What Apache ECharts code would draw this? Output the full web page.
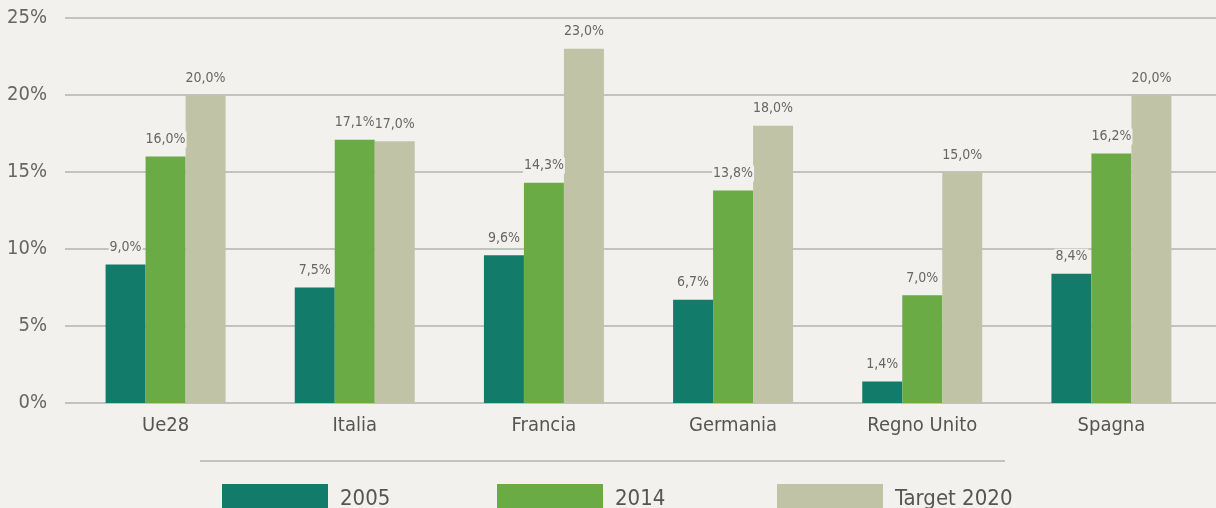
<!DOCTYPE html>
<html><head><meta charset="utf-8">
<script src="https://cdn.jsdelivr.net/npm/echarts@6/dist/echarts.min.js"></script>
<style>html,body{margin:0;padding:0;background:#f2f1ed}#c{width:1216px;height:508px}</style>
</head><body><div id="c"></div>
<script>
const categories = ['Ue28', 'Italia', 'Francia', 'Germania', 'Regno Unito', 'Spagna'];
const seriesNames = ['2005', '2014', 'Target 2020'];
const values2005 = [9.0, 7.5, 9.6, 6.7, 1.4, 8.4];
const values2014 = [16.0, 17.1, 14.3, 13.8, 7.0, 16.2];
const valuesTarget = [20.0, 17.0, 23.0, 18.0, 15.0, 20.0];
const yTicks = [0, 5, 10, 15, 20, 25];

const FONT = '"DejaVu Sans Condensed", "Liberation Sans Narrow", "Roboto", sans-serif';
const BG = '#f2f1ed';
const colors = ['#137b69', '#6aab45', '#c0c3a5'];
const allValues = [values2005, values2014, valuesTarget];
const legendLeft = [222, 497, 777];

const chart = echarts.init(document.getElementById('c'));
chart.setOption({
  backgroundColor: BG,
  animation: false,
  textStyle: { fontFamily: FONT },
  grid: [
    { left: 71, right: 10, top: 18, bottom: 105 },
    { left: 65, right: 0, top: 18, bottom: 105 }
  ],
  xAxis: [
    { type: 'category', data: categories, gridIndex: 0,
      axisLine: { show: false }, axisTick: { show: false },
      axisLabel: { fontFamily: FONT, fontSize: 20, color: '#555', margin: 13 } },
    { type: 'category', data: categories, gridIndex: 1, show: false }
  ],
  yAxis: [
    { type: 'value', gridIndex: 0, min: yTicks[0], max: yTicks[yTicks.length - 1], interval: 5,
      splitLine: { show: false },
      axisLine: { show: false }, axisTick: { show: false },
      axisLabel: { show: false } },
    { type: 'value', gridIndex: 1, min: yTicks[0], max: yTicks[yTicks.length - 1], interval: 5,
      splitLine: { show: true, lineStyle: { color: '#c2c2bf', width: 2 } },
      axisLine: { show: false }, axisTick: { show: false },
      axisLabel: { fontFamily: FONT, fontSize: 20, color: '#666', margin: 18,
        formatter: v => v + '%' } }
  ],
  legend: seriesNames.map((n, i) => ({
    data: [n], left: legendLeft[i], top: 484, padding: 0, itemWidth: 106, itemHeight: 30,
    icon: 'rect', selectedMode: false,
    textStyle: { fontFamily: FONT, fontSize: 22, color: '#555', padding: [0, 0, 0, 7] }
  })),
  graphic: [
    { type: 'line', shape: { x1: 200, y1: 461, x2: 1005, y2: 461 },
      style: { stroke: '#c2c2bf', lineWidth: 2 } }
  ],
  series: seriesNames.map((n, i) => ({
    name: n, type: 'bar', xAxisIndex: 0, yAxisIndex: 0,
    data: allValues[i], barWidth: 40, barGap: '0%',
    itemStyle: { color: colors[i] },
    label: { show: true, position: 'top', distance: 9,
      fontFamily: FONT, fontSize: 14, color: '#666',
      backgroundColor: BG, padding: [1, 1],
      formatter: p => p.value.toFixed(1).replace('.', ',') + '%' }
  }))
});
</script></body></html>
